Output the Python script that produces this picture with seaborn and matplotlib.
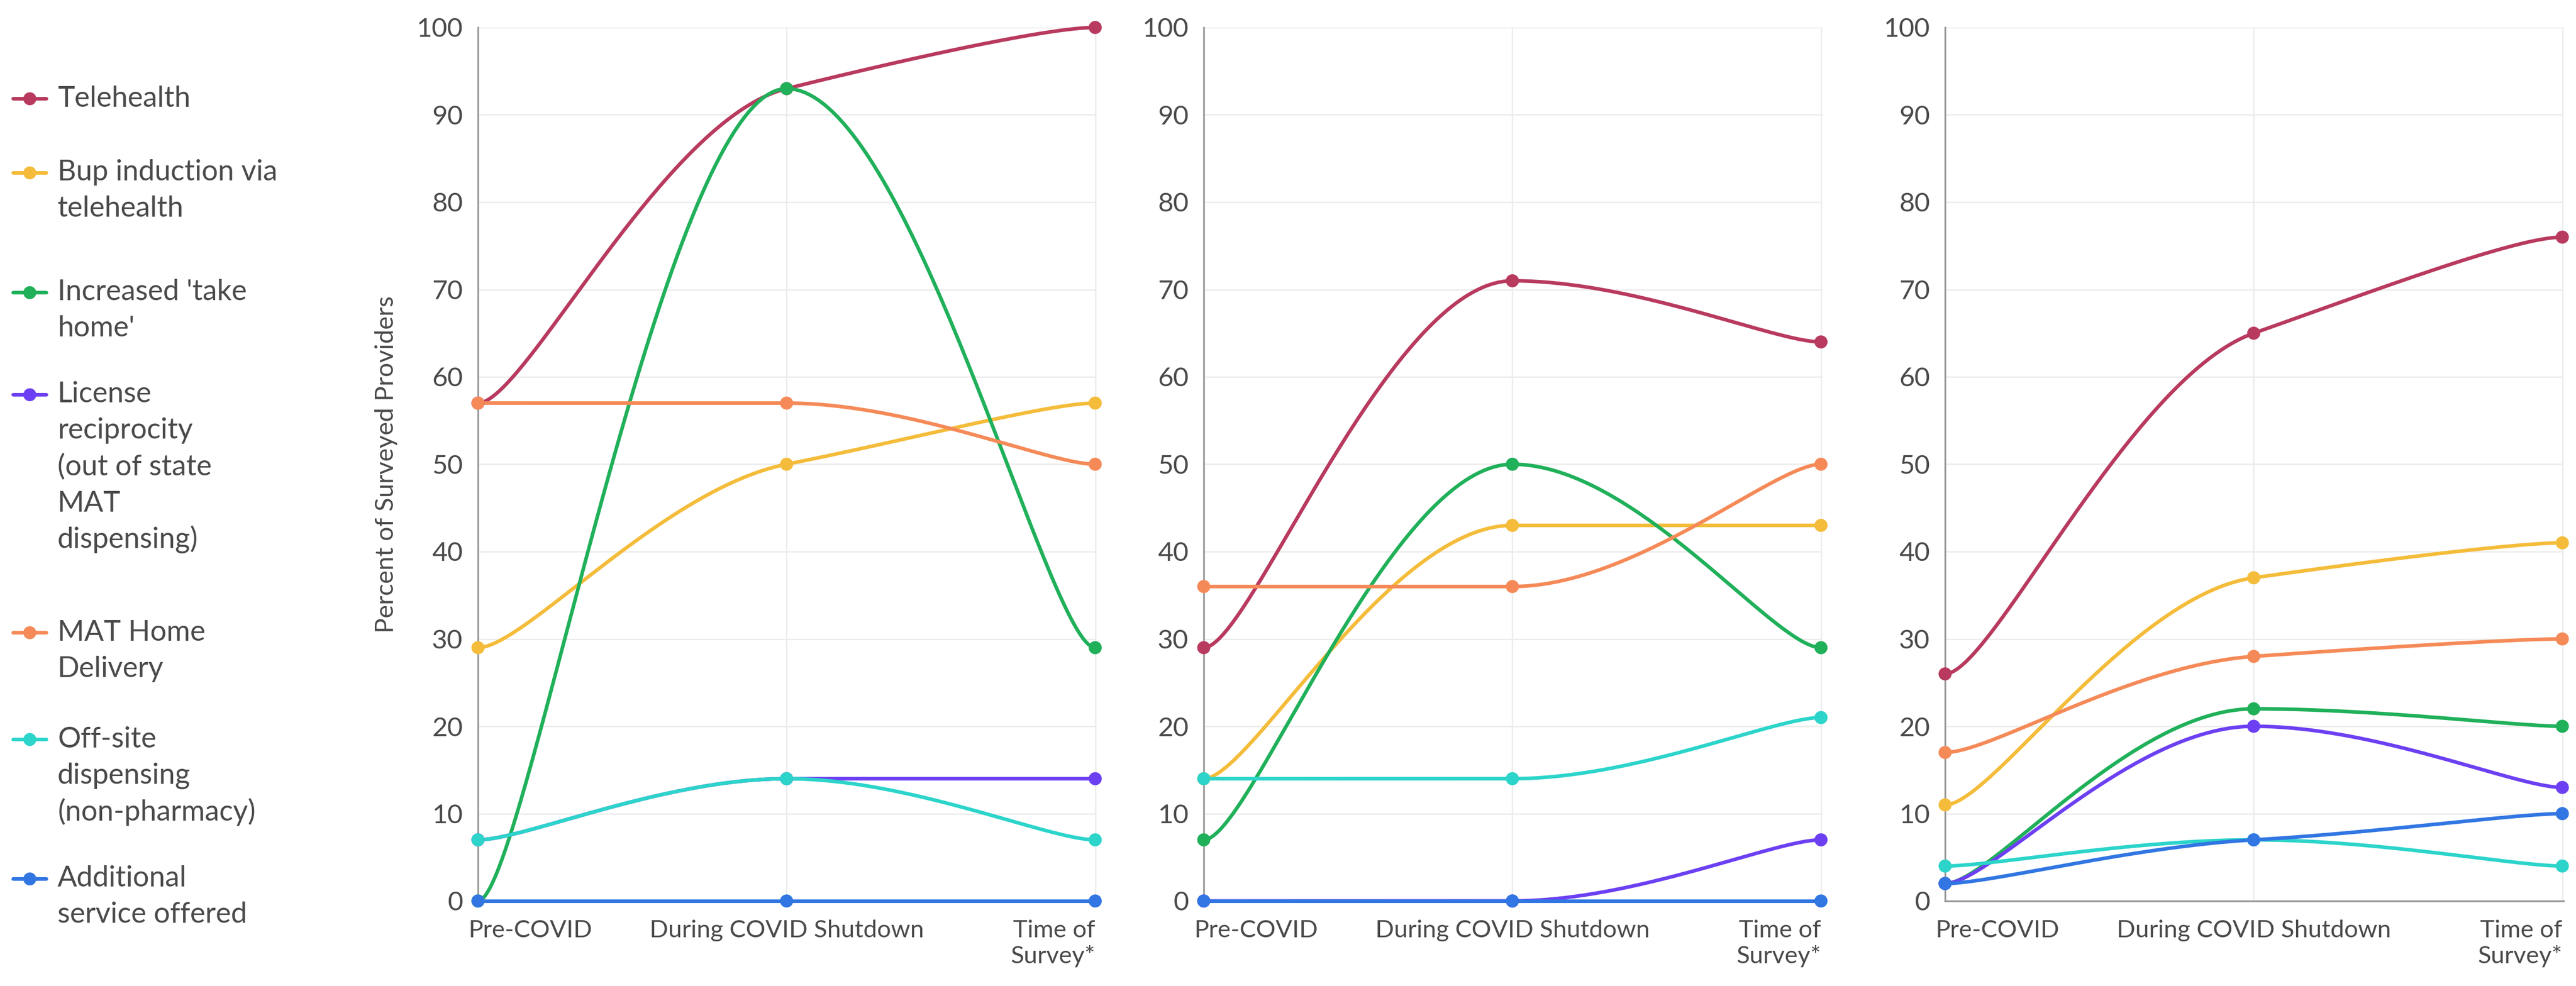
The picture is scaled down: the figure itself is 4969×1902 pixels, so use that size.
import numpy as np
import pandas as pd
import matplotlib
matplotlib.use("Agg")
import matplotlib.pyplot as plt
from matplotlib.lines import Line2D
import seaborn as sns

# categories and series
periods = ['Pre-COVID', 'During COVID Shutdown', 'Time of\nSurvey*']
services = ['Telehealth',
            'Bup induction via\ntelehealth',
            "Increased 'take\nhome'",
            'License\nreciprocity\n(out of state\nMAT\ndispensing)',
            'MAT Home\nDelivery',
            'Off-site\ndispensing\n(non-pharmacy)',
            'Additional\nservice offered']
colors = ['#b83a5e', '#f4bc3a', '#20b05a', '#6c40f2', '#f58a58', '#2cd4ca', '#3176e2']

# percent of surveyed providers, one list per service, per panel
panel1 = {
    'Telehealth': [57, 93, 100],
    'Bup': [29, 50, 57],
    'TakeHome': [0, 93, 29],
    'License': [7, 14, 14],
    'HomeDelivery': [57, 57, 50],
    'OffSite': [7, 14, 7],
    'Additional': [0, 0, 0],
}
panel2 = {
    'Telehealth': [29, 71, 64],
    'Bup': [14, 43, 43],
    'TakeHome': [7, 50, 29],
    'License': [0, 0, 7],
    'HomeDelivery': [36, 36, 50],
    'OffSite': [14, 14, 21],
    'Additional': [0, 0, 0],
}
panel3 = {
    'Telehealth': [26, 65, 76],
    'Bup': [11, 37, 41],
    'TakeHome': [2, 22, 20],
    'License': [2, 20, 13],
    'HomeDelivery': [17, 28, 30],
    'OffSite': [4, 7, 4],
    'Additional': [2, 7, 10],
}
panels = [panel1, panel2, panel3]

TEXT = '#4a4a4a'
AXIS = '#9a9a9a'


def spline(ys, smoothing=1.5, flat=0.15, soften=0.5, n=80):
    """smooth bezier through the points: flat ends, damped tangents inside"""
    ys = np.asarray(ys, float)
    xs = np.arange(len(ys), dtype=float)
    d = smoothing + 1
    left, right = {}, {}
    for i in range(1, len(ys) - 1):
        lx = (smoothing * xs[i] + xs[i - 1]) / d
        ly = (smoothing * ys[i] + ys[i - 1]) / d
        rx = (smoothing * xs[i] + xs[i + 1]) / d
        ry = (smoothing * ys[i] + ys[i + 1]) / d
        corr = (ry - ly) * (rx - xs[i]) / (rx - lx) + ys[i] - ry
        ly += corr
        ry += corr
        if ly > ys[i - 1] and ly > ys[i]:
            ly = max(ys[i - 1], ys[i]); ry = 2 * ys[i] - ly
        elif ly < ys[i - 1] and ly < ys[i]:
            ly = min(ys[i - 1], ys[i]); ry = 2 * ys[i] - ly
        if ry > ys[i + 1] and ry > ys[i]:
            ry = max(ys[i + 1], ys[i]); ly = 2 * ys[i] - ry
        elif ry < ys[i + 1] and ry < ys[i]:
            ry = min(ys[i + 1], ys[i]); ly = 2 * ys[i] - ry
        m = soften * (ry - ly) / (rx - lx)
        left[i] = (lx, ys[i] - m * (xs[i] - lx))
        right[i] = (rx, ys[i] + m * (rx - xs[i]))
    t = np.linspace(0, 1, n)[:, None]
    out = []
    for i in range(1, len(ys)):
        p0 = np.array([xs[i - 1], ys[i - 1]])
        p3 = np.array([xs[i], ys[i]])
        p1 = np.array(right.get(i - 1, (xs[i - 1] + flat, ys[i - 1])))
        p2 = np.array(left.get(i, (xs[i] - flat, ys[i])))
        seg = ((1 - t) ** 3) * p0 + 3 * ((1 - t) ** 2) * t * p1 + 3 * (1 - t) * t ** 2 * p2 + t ** 3 * p3
        out.append(seg if i == 1 else seg[1:])
    out = np.vstack(out)
    return out[:, 0], out[:, 1]


sns.set_theme(style='white')
plt.rcParams['font.family'] = ['Lato', 'DejaVu Sans']
plt.rcParams['text.color'] = TEXT

fig = plt.figure(figsize=(49.69, 19.02), dpi=100)
W, H = 4969, 1902
lefts = [922, 2322, 3752]
width = 1193
y_top, y_bot = 53, 1738

palette = dict(zip(services, colors))
label_ha = ['left', 'center', 'right']
label_dx = [-13, 0, 0]

for k, pdata in enumerate(panels):
    ax = fig.add_axes([lefts[k] / W, 1 - y_bot / H, width / W, (y_bot - y_top) / H])
    pts, dense = [], []
    for name, vals in zip(services, pdata.values()):
        for j, v in enumerate(vals):
            pts.append((name, j, v))
        sx, sy = spline(vals)
        dense += [(name, a, b) for a, b in zip(sx, sy)]
    pts = pd.DataFrame(pts, columns=['service', 'x', 'y'])
    dense = pd.DataFrame(dense, columns=['service', 'x', 'y'])

    ax.set_axisbelow(True)
    ax.grid(True, axis='both', color='#ececec', linewidth=2)
    sns.lineplot(data=dense, x='x', y='y', hue='service', hue_order=services,
                 palette=palette, sort=False, estimator=None, linewidth=5,
                 legend=False, ax=ax)
    for ln in ax.lines:
        ln.set_clip_on(False)
        ln.set_solid_capstyle('round')
        ln.set_zorder(3)
    sns.scatterplot(data=pts, x='x', y='y', hue='service', hue_order=services,
                    palette=palette, s=330, linewidth=0, legend=False, ax=ax,
                    zorder=4, clip_on=False)

    ax.set_xlim(0, 2.004)
    ax.set_ylim(0, 100)
    ax.set_yticks(range(0, 101, 10))
    ax.set_xticks([0, 1, 2])
    ax.set_xticklabels([])
    for j, (lab, ha, dx) in enumerate(zip(periods, label_ha, label_dx)):
        ax.annotate(lab, xy=(j, 0), xycoords=('data', 'axes fraction'),
                    xytext=(dx, -26), textcoords='offset points',
                    ha=ha, va='top', fontsize=34, color=TEXT,
                    annotation_clip=False)
    ax.tick_params(axis='y', labelsize=37, length=11, width=2.2, color=AXIS,
                   pad=10, labelcolor=TEXT)
    ax.tick_params(axis='x', length=11, width=2.2, color=AXIS)
    for s in ['top', 'right']:
        ax.spines[s].set_visible(False)
    for s in ['left', 'bottom']:
        ax.spines[s].set_color(AXIS)
        ax.spines[s].set_linewidth(2.5)
    ax.set_xlabel('')
    if k == 0:
        ax.set_ylabel('Percent of Surveyed Providers', fontsize=35, color=TEXT)
        ax.yaxis.set_label_coords((767 - lefts[0]) / width, 0.5)
    else:
        ax.set_ylabel('')

# legend on the left, drawn by hand
first_line = [190, 333, 564, 761, 1220, 1426, 1695]
step = 70
for name, col, yc in zip(services, colors, first_line):
    yf = 1 - yc / H
    fig.add_artist(Line2D([25 / W, 89 / W], [yf, yf], color=col, linewidth=5,
                          solid_capstyle='round'))
    fig.add_artist(Line2D([57 / W], [yf], color=col, marker='o', markersize=18,
                          markeredgewidth=0))
    for i, line in enumerate(name.split('\n')):
        fig.text(111 / W, 1 - (yc + i * step) / H, line, fontsize=40,
                 va='center', ha='left', color=TEXT)

fig.savefig('out.png', dpi=100)
